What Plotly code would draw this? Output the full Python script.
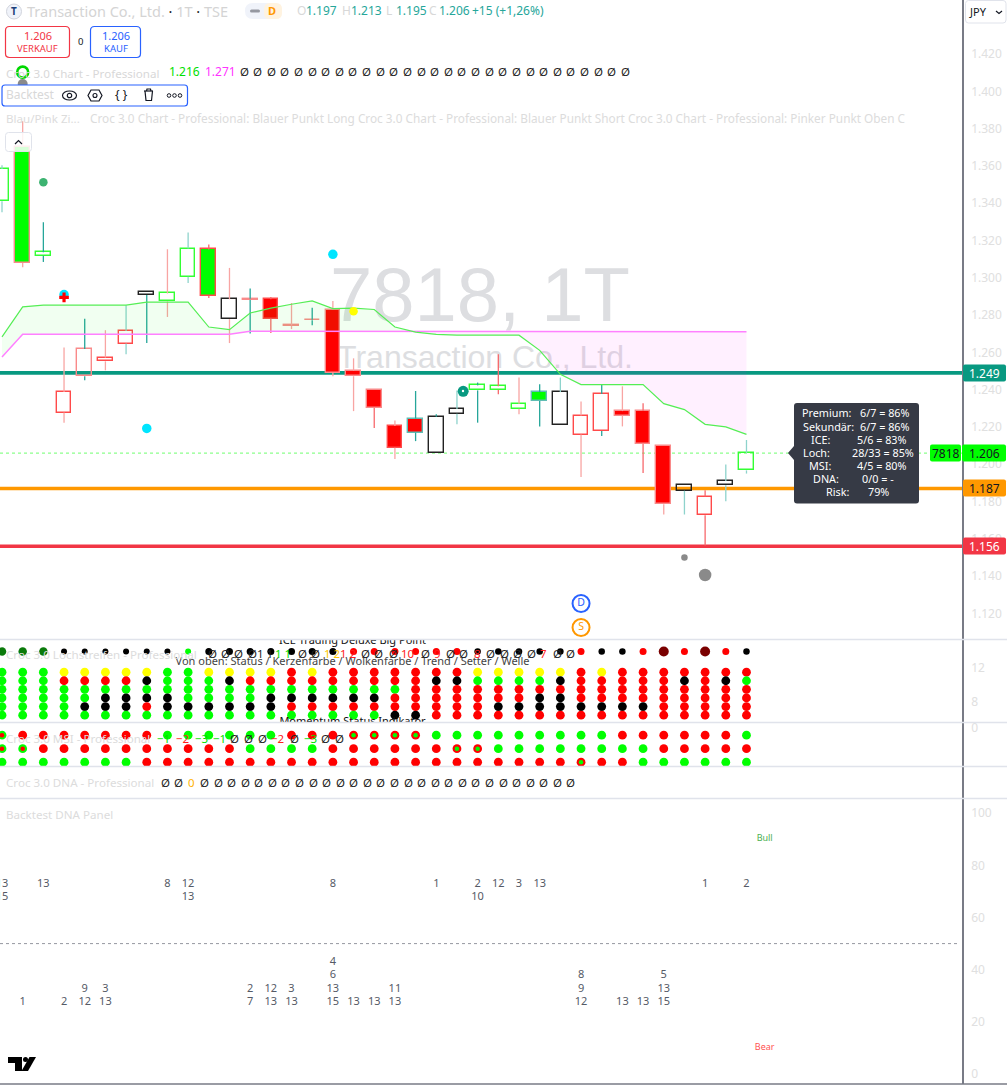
import plotly.graph_objects as go

W, H = 1007, 1085
FONT = "Noto Sans"

# ---------- candle data ----------
high = [1.3604,1.3840,1.3298,1.2626,1.2781,1.2719,1.2853,1.2926,1.3153,1.3243,1.3179,1.3053,1.2942,1.2897,1.2865,1.2840,1.2876,1.2568,1.2400,1.2235,1.2393,1.2268,1.2396,
        1.2438,1.2590,1.2465,1.2429,1.2465,1.2337,1.2429,1.2418,1.2327,1.2100,1.1890,1.1860,1.1999,1.2130]
low = [1.3352,1.3057,1.3085,1.2223,1.2450,1.2504,1.2590,1.2650,1.2790,1.2972,1.2892,1.2650,1.2701,1.2704,1.2725,1.2745,1.2472,1.2285,1.2194,1.2028,1.2124,1.2058,1.2214,
       1.2223,1.2375,1.2268,1.2203,1.2209,1.1931,1.2151,1.2203,1.1953,1.1731,1.1731,1.1564,1.1802,1.1950]
body_top = [1.3583,1.3701,1.3137,1.2387,1.2618,1.2572,1.2715,1.2926,1.2916,1.3157,1.3152,1.2885,1.2888,1.2885,1.2745,1.2775,1.2830,1.2502,1.2400,1.2205,1.2245,1.2255,1.2296,
            1.2423,1.2418,1.2325,1.2387,1.2387,1.2261,1.2377,1.2285,1.2285,1.2100,1.1890,1.1827,1.1910,1.2060]
body_bot = [1.3411,1.3080,1.3118,1.2277,1.2472,1.2552,1.2647,1.2908,1.2873,1.3005,1.2903,1.2778,1.2882,1.2781,1.2742,1.2772,1.2491,1.2472,1.2301,1.2089,1.2169,1.2058,1.2271,
            1.2396,1.2400,1.2298,1.2339,1.2209,1.2159,1.2178,1.2261,1.2108,1.1786,1.1858,1.1727,1.1888,1.1967]
body_fill = list("ngnnnnnnnngnnrnnrrrrrnnnnngnnnrrrnnnn")
body_edge = list("gpgrprrkggrkprppppprtkkgggtkrrpppkrkg")
wick_col = ["l","p","t","p","t","p","l","t","p","l","r","p","t","r","p","t","p","p","r","p","t","t","l",
            "t","r","p","t","l","p","t","p","r","p","l","r","l","l"]

# ---------- cloud ----------
cloud_top = [1.2683,1.2844,1.2853,1.2853,1.2853,1.2853,1.2853,1.2870,1.2870,1.2870,1.2736,1.2722,1.2811,1.2837,1.2858,1.2876,1.2835,1.2837,1.2830,1.2736,1.2709,1.2697,1.2692,
             1.2692,1.2692,1.2692,1.2611,1.2482,1.2427,1.2427,1.2427,1.2427,1.2325,1.2293,1.2214,1.2200,1.2160]
cloud_bot = [1.2575,1.2697,1.2697,1.2697,1.2697,1.2697,1.2697,1.2697,1.2697,1.2697,1.2697,1.2697,1.2713,1.2713,1.2713,1.2713,1.2713,1.2713,1.2713,1.2713,1.2713,1.2713,1.2713,
             1.2713,1.2713,1.2713,1.2713,1.2713,1.2713,1.2713,1.2713,1.2713,1.2713,1.2713,1.2713,1.2710,1.2710]
CROSS = 20

levels = [1.249, 1.187, 1.156]
level_colors = ["#089981", "#ff9800", "#f23645"]
last_price = 1.206

price_ticks = [1.12,1.14,1.16,1.18,1.20,1.22,1.24,1.26,1.28,1.30,1.32,1.34,1.36,1.38,1.40,1.42]
price_tick_labels = [f"{v:.3f}" for v in price_ticks]

# signal markers on the price pane
cyan_x, cyan_y = [3, 7, 16], [1.2910, 1.2192, 1.3126]
seagreen_x, seagreen_y = [2], [1.3513]
yellow_x, yellow_y = [17], [1.2820]
cross_x, cross_y = [3], [1.2895]
grey_small_x, grey_small_y = [33], [1.1500]
grey_big_x, grey_big_y = [34], [1.1406]
ring_x, ring_y = [1], [1.4103]
ring_grey_x, ring_grey_y = [1], [1.4039]
clock_x, clock_y = [22.3], [1.2391]
event_x, event_y, event_text = [28, 28], [1.1253, 1.1124], ["D", "S"]

# ---------- ICE panel ----------
status_row = list("dddkkkkkkGkkkkkkkRRRRRRkkkkkRkkRXRXRk")
ice_rows = [
    "GGGYYYYYGGYYYYRYRRRRRRRYYYYYRYRRRRRRR",
    "GGGRRRRKGGGKRRRRRRRRRKKGGGGKRRRRRKRKG",
    "GGGGGGGGGGGGGGGGGGGGRRRRRRRRRRRRRRRRR",
    "GGGGGKKKKGGGGKKKKKKRRRRRRRKKRRRRRRRRR",
    "GGGGKKKRKKKKKKRRRRRRRRRRKKKKKKKKRRRRR",
    "GGGGGGGGGGGGGGGGGGGKKRRRRRRRRRRRRRRRR",
]
ice_levels = [11.5, 10.5, 9.5, 8.5, 7.5, 6.5]
status_level = 13.9

# ---------- MSI panel ----------
msi_rows = [
    "GRRRRRRRGGGGGGRRRRRRGGGGGGGGGGRRRRRRG",
    "GGRRRRRRRRRRGGGGRRRRRRRRGGGGGGGGRRRRR",
    "GGGGGGGRRRRRRRRRRRRRRRRRRRRRRRRGGGGGG",
]
msi_levels = [-0.57, -1.57, -2.57]
msi_inner = [(0,0,"R"),(0,17,"G"),(0,18,"G"),(0,19,"G"),(0,20,"G"),
             (1,0,"R"),(1,1,"R"),(1,22,"G"),(1,23,"G"),(2,28,"G")]
msi_outer_red = [(0,17),(0,18),(0,19),(0,20),(1,22),(1,23),(2,28)]

# ---------- Backtest DNA ----------
dna_upper = {0:["13","15"],2:["13"],8:["8"],9:["12","13"],16:["8"],21:["1"],23:["2","10"],24:["12"],25:["3"],26:["13"],34:["1"],36:["2"]}
dna_lower = {1:["1"],3:["2"],4:["9","12"],5:["3","13"],12:["2","7"],13:["12","13"],14:["3","13"],16:["4","6","13","15"],17:["13"],18:["13"],19:["11","13"],
             28:["8","9","12"],30:["13"],31:["13"],32:["5","13","15"]}
upper_levels = [72.9, 67.9]
lower_levels = [27.6, 32.6, 37.8, 42.7]
dna_ticks = [0, 20, 40, 60, 80, 100]

# ---------- header text ----------
title_nulls = 29

COL = {"G":"#00ff00","R":"#ff0000","K":"#000000","Y":"#ffff00","d":"#0a7a0a","k":"#000000","X":"#7a0000"}
FILL = {"n":"rgba(0,0,0,0)","g":"#00ff00","r":"#ff0000"}
EDGE = {"g":"#33ff33","r":"#ff4a4a","p":"#f98a8a","k":"#222222","t":"#5fbdb4"}
WICK = {"t":"#26a69a","l":"#8ed3cc","r":"#f7686c","p":"#f8a5a3"}

AX_RIGHT = 962
X0 = 2.0; STEP = 20.68
xr = [(0-X0)/STEP, (AX_RIGHT-X0)/STEP]

def dom(top, bot):
    return [1-bot/H, 1-top/H]
def px(x): return x/W
def py(y): return 1-y/H

fig = go.Figure()
n = len(high)
xs = list(range(n))

# candle bodies (hollow ones stay see-through)
fig.add_trace(go.Bar(x=xs, base=body_bot, y=[t-b for t,b in zip(body_top,body_bot)], width=0.71,
                     marker=dict(color=[FILL[c] for c in body_fill],
                                 line=dict(color=[EDGE[c] for c in body_edge], width=1.4)), showlegend=False))
# wicks, drawn above and below the body only
for key, colr in WICK.items():
    wx, wy = [], []
    for i in xs:
        if wick_col[i] == key:
            if high[i] > body_top[i]:
                wx += [i, i, None]; wy += [high[i], body_top[i], None]
            if low[i] < body_bot[i]:
                wx += [i, i, None]; wy += [body_bot[i], low[i], None]
    fig.add_trace(go.Scatter(x=wx, y=wy, mode="lines", line=dict(color=colr, width=1.3), showlegend=False))

# cloud
k = CROSS+1
fig.add_trace(go.Scatter(x=xs[:k], y=cloud_bot[:k], mode="lines", line=dict(width=0), showlegend=False))
fig.add_trace(go.Scatter(x=xs[:k], y=cloud_top[:k], mode="lines", line=dict(width=0), fill="tonexty",
                         fillcolor="rgba(0,255,0,0.055)", showlegend=False))
fig.add_trace(go.Scatter(x=xs[CROSS:], y=cloud_top[CROSS:], mode="lines", line=dict(width=0), showlegend=False))
fig.add_trace(go.Scatter(x=xs[CROSS:], y=cloud_bot[CROSS:], mode="lines", line=dict(width=0), fill="tonexty",
                         fillcolor="rgba(255,0,255,0.06)", showlegend=False))
fig.add_trace(go.Scatter(x=xs, y=cloud_bot, mode="lines", line=dict(color="#ff80ff", width=1.5), showlegend=False))
fig.add_trace(go.Scatter(x=xs, y=cloud_top, mode="lines", line=dict(color="#55ee55", width=1.2), showlegend=False))

def dots(x, y, color, size, yaxis="y", **kw):
    fig.add_trace(go.Scatter(x=x, y=y, mode="markers", yaxis=yaxis, showlegend=False,
                             marker=dict(color=color, size=size, opacity=1, line=dict(width=0), **kw)))

dots(cyan_x, cyan_y, "#00e5ff", 9.5)
dots(seagreen_x, seagreen_y, "#3cb371", 8.5)
dots(yellow_x, yellow_y, "#ffff00", 8.5)
fig.add_trace(go.Scatter(x=cross_x, y=cross_y, mode="markers", showlegend=False,
                         marker=dict(symbol="cross", color="#ff0000", size=8, line=dict(width=0))))
dots(grey_small_x, grey_small_y, "#8a8a8a", 6.5)
dots(grey_big_x, grey_big_y, "#8a8a8a", 12.5)
dots(ring_grey_x, ring_grey_y, "#8a8a8a", 10)
fig.add_trace(go.Scatter(x=ring_x, y=ring_y, mode="markers", showlegend=False,
                         marker=dict(symbol="circle-open", color="#00d800", size=11, line=dict(width=2.6, color="#00d800"))))
dots(clock_x, clock_y, "#089981", 11)
fig.add_trace(go.Scatter(x=[event_x[0]], y=[event_y[0]], mode="markers+text", text=[event_text[0]],
                         textfont=dict(family=FONT, size=10.5, color="#2962ff"), textposition="middle center", showlegend=False,
                         marker=dict(color="white", size=17, line=dict(color="#2962ff", width=2))))
fig.add_trace(go.Scatter(x=[event_x[1]], y=[event_y[1]], mode="markers+text", text=[event_text[1]],
                         textfont=dict(family=FONT, size=10.5, color="#ff9800"), textposition="middle center", showlegend=False,
                         marker=dict(color="white", size=17, line=dict(color="#ff9800", width=2))))

# ICE panel
sizes = [8.5,8.5,8.5,6,6,6,6,6,6,6,7,7,7,7,7,7,7,7,7,7,7,7,7,6.5,6.5,6.5,6.5,6.5,7,6.5,6.5,7,10,7,10,7,6.5]
dots(xs, [status_level]*n, [COL[c] for c in status_row], sizes, "y2")
for row, lv in zip(ice_rows, ice_levels):
    dots(xs, [lv]*n, [COL[c] for c in row], 8.8, "y2")
fig.add_trace(go.Scatter(x=[16.95, 16.95, 16.95], y=[15.06, 12.7, 5.65], yaxis="y2", mode="text", showlegend=False,
                         text=["ICE Trading Deluxe Big Point", "Von oben: Status / Kerzenfarbe / Wolkenfarbe / Trend / Setter / Welle", "Momentum Status Indikator"],
                         textfont=dict(family=FONT, size=11, color=["#111111", "#444444", "#111111"]), textposition="middle center"))

# MSI panel
for r, (row, lv) in enumerate(zip(msi_rows, msi_levels)):
    cols = list(row)
    for (rr, i) in msi_outer_red:
        if rr == r: cols[i] = "R"
    dots(xs, [lv]*n, [COL[c] for c in cols], 8.8, "y3")
dots([m[1] for m in msi_inner], [msi_levels[m[0]] for m in msi_inner], [COL[m[2]] for m in msi_inner], 4.5, "y3")

# DNA backtest numbers
tx, ty, tt = [], [], []
for i, labels in dna_upper.items():
    for lv, lab in zip(upper_levels, labels):
        tx.append(i); ty.append(lv); tt.append(lab)
for i, labels in dna_lower.items():
    for lv, lab in zip(lower_levels, reversed(labels)):
        tx.append(i); ty.append(lv); tt.append(lab)
fig.add_trace(go.Scatter(x=tx, y=ty, yaxis="y5", mode="text", text=tt, showlegend=False,
                         textfont=dict(family=FONT, size=11, color="#555a66"), textposition="middle center"))
fig.add_trace(go.Scatter(x=[36.88, 36.88], y=[90, 10], yaxis="y5", mode="text", text=["Bull", "Bear"], showlegend=False,
                         textfont=dict(family=FONT, size=9, color=["#4caf50", "#ff5252"]), textposition="middle center"))

# ---------- chrome ----------
shapes, ann = [], []

def txt(x, y, text, color="#d8d8d8", size=12, anchor="left", family=FONT):
    ann.append(dict(x=px(x), y=py(y), xref="paper", yref="paper", text=text, showarrow=False, xanchor=anchor, yanchor="middle",
                    font=dict(family=family, size=size, color=color), borderpad=0, borderwidth=0))

def rr_path(x0, y0, x1, y1, r):
    a, b, c, d = px(x0), py(y0), px(x1), py(y1)
    rx, ry = r/W, r/H
    return (f"M{a+rx},{b} L{c-rx},{b} Q{c},{b} {c},{b-ry} L{c},{d+ry} Q{c},{d} {c-rx},{d} "
            f"L{a+rx},{d} Q{a},{d} {a},{d+ry} L{a},{b-ry} Q{a},{b} {a+rx},{b} Z")

def rrect(x0, y0, x1, y1, r, fill="white", edge=None, lw=1.2, layer="above"):
    shapes.append(dict(type="path", path=rr_path(x0,y0,x1,y1,r), xref="paper", yref="paper", fillcolor=fill, layer=layer,
                       line=dict(color=edge or "rgba(0,0,0,0)", width=lw if edge else 0)))

def poly(pts, fill=None, edge=None, lw=1.2, close=True):
    p = "M" + " L".join(f"{px(a)},{py(b)}" for a,b in pts) + (" Z" if close else "")
    shapes.append(dict(type="path", path=p, xref="paper", yref="paper", fillcolor=fill or "rgba(0,0,0,0)",
                       line=dict(color=edge or "rgba(0,0,0,0)", width=lw if edge else 0)))

def circ(cx, cy, r, fill=None, edge=None, lw=1.2, ry=None):
    ry = ry if ry is not None else r
    shapes.append(dict(type="circle", xref="paper", yref="paper", x0=px(cx-r), x1=px(cx+r), y0=py(cy+ry), y1=py(cy-ry),
                       fillcolor=fill or "rgba(0,0,0,0)", line=dict(color=edge or "rgba(0,0,0,0)", width=lw if edge else 0)))

def hline(y, x0, x1, color, w=1, dash="solid", layer="above"):
    shapes.append(dict(type="line", xref="paper", yref="paper", x0=px(x0), x1=px(x1), y0=py(y), y1=py(y),
                       line=dict(color=color, width=w, dash=dash), layer=layer))

# watermark (below the data)
shapes.append(dict(type="rect", xref="paper", yref="paper", x0=px(280), x1=px(680), y0=py(325), y1=py(250), layer="below", line=dict(width=0),
                   fillcolor="rgba(0,0,0,0)", label=dict(text="7818, 1T", textposition="middle center", font=dict(family="Liberation Sans", size=76, color="#dddee1"))))
shapes.append(dict(type="rect", xref="paper", yref="paper", x0=px(280), x1=px(690), y0=py(375), y1=py(333), layer="below", line=dict(width=0),
                   fillcolor="rgba(0,0,0,0)", label=dict(text="Transaction Co., Ltd.", textposition="middle center", font=dict(family="Liberation Sans", size=32, color="#dddee1"))))

# price levels below candles
for v, c in zip(levels, level_colors):
    shapes.append(dict(type="line", xref="paper", yref="y", x0=0, x1=px(AX_RIGHT), y0=v, y1=v, line=dict(color=c, width=3.6), layer="below"))
shapes.append(dict(type="line", xref="paper", yref="y", x0=0, x1=px(AX_RIGHT), y0=last_price, y1=last_price, line=dict(color="#8cff8c", width=1.2, dash="dot"), layer="below"))
shapes.append(dict(type="line", xref="paper", yref="y5", x0=0, x1=px(960), y0=50, y1=50, line=dict(color="#9598a1", width=1, dash="dot"), layer="below"))

# pane separators
for y in (639.5, 722.5, 766.5, 798.5):
    hline(y, 0, W, "#e0e3eb", 1.5)
hline(1084, 0, W, "#787b86", 1.5)

# header
circ(14, 11.5, 7.5, "#f0f3fa", "#d1d4dc", 1)
txt(14, 11.5, "<b>T</b>", "#1a3f7a", 10, "center")
txt(27, 11.5, 'Transaction Co., Ltd. <span style="color:#222">·</span> 1T <span style="color:#222">·</span> TSE', "#d4d4d4", 14.5)
rrect(245, 3, 282, 19, 8, "#f0f3fa")
rrect(264, 3, 282, 19, 6, "#fff3e0")
rrect(250, 9.5, 260, 12.5, 1.5, "#9598a1")
txt(272, 11, "<b>D</b>", "#ff9800", 11, "center")
for xx, lab, val in [(296.5,"O","1.197"),(341.5,"H","1.213"),(386,"L","1.195"),(429,"C","1.206")]:
    txt(xx, 10.5, lab, "#d8d8d8", 12)
    txt(xx+9.5, 10.5, val, "#26a69a", 12)
txt(472, 10.5, "+15 (+1,26%)", "#26a69a", 12)

# order buttons
rrect(5.5, 26.5, 69.5, 57.5, 4, "white", "#f23645", 1.2)
txt(37.5, 36, "1.206", "#f23645", 11, "center")
txt(37.5, 48.5, "VERKAUF", "#f23645", 9.5, "center")
txt(80, 42, "0", "#131722", 9.5, "center")
rrect(90.5, 26.5, 140.5, 57.5, 4, "white", "#2962ff", 1.2)
txt(115.5, 36, "1.206", "#2962ff", 11, "center")
txt(115.5, 48.5, "KAUF", "#2962ff", 9.5, "center")

# JPY button
rrect(965.5, 0.5, 1006, 23, 3, "white", "#e0e3eb", 1)
txt(969, 12, "JPY", "#131722", 11)
poly([(996,11),(999,13.5),(1002,11)], None, "#131722", 1.2, False)

# title row
txt(6, 73, "Croc 3.0 Chart - Professional", "#d8d8d8", 11.6)
txt(169, 72, "1.216", "#00e000", 12)
txt(205, 72, "1.271", "#ff33ff", 12)
for j in range(title_nulls):
    txt(244+13.62*j, 72, "Ø", "#222222", 11.5, "center")

# Backtest toolbar
rrect(2, 85, 187.5, 106, 3, "white", "#2962ff", 1.2)
txt(6, 95, "Backtest", "#d8d8d8", 12)
circ(69.5, 95.5, 7, None, "#131722", 1.2, ry=4.5)
circ(69.5, 95.5, 2.2, None, "#131722", 1.2)
poly([(91,90),(99,90),(102,95.5),(99,101),(91,101),(88,95.5)], None, "#131722", 1.2)
circ(95, 95.5, 2, None, "#131722", 1.1)
txt(121.5, 95, "{ }", "#131722", 12, "center")
poly([(144,91),(153,91)], None, "#131722", 1.2, False)
poly([(145,91),(146,100.5),(151.5,100.5),(152.5,91)], None, "#131722", 1.2, False)
poly([(146.5,91),(147,89),(150.5,89),(151,91)], None, "#131722", 1.2, False)
for cx in (169, 174.5, 180):
    circ(cx, 95.5, 1.8, None, "#131722", 1)

txt(6, 118, "Blau/Pink Zi...", "#dcdcdc", 11.6)
txt(90, 118, "Croc 3.0 Chart - Professional: Blauer Punkt Long Croc 3.0 Chart - Professional: Blauer Punkt Short Croc 3.0 Chart - Professional: Pinker Punkt Oben C", "#dcdcdc", 11.8)

# collapse button
rrect(5.5, 132.5, 31.5, 151.5, 3, "rgba(255,255,255,0.85)", "#e0e3eb", 1)
poly([(15,144),(18.5,140.5),(22,144)], None, "#131722", 1.2, False)

# price tags
def tag(x0, x1, y, text, bg, fg):
    rrect(x0, y-8.5, x1, y+8.5, 2, bg)
    txt((x0+x1)/2, y, text, fg, 12, "center")
tag(963, 1006, 373, "1.249", "#089981", "white")
tag(963, 1006, 488, "1.187", "#ff9800", "#131722")
tag(963, 1006, 546, "1.156", "#f23645", "white")
tag(930, 961, 453, "7818", "#00ff00", "#131722")
tag(962, 1006, 453, "1.206", "#00ff00", "#131722")

# tooltip
rrect(794, 403, 919, 503.5, 3, "#363a45")
poly([(794,446),(788,453),(794,460)], "#363a45")
rows = [("Premium:",827,"6/7 = 86%",885,412.5),("Sekundär:",828,"6/7 = 86%",885,426),("ICE:",820,"5/6 = 83%",882,439),
        ("Loch:",816,"28/33 = 85%",883,452),("MSI:",820,"4/5 = 80%",882,465),("DNA:",826,"0/0 = -",878,478),("Risk:",837,"79%",878,491.5)]
for a, ax, b, bx, yy in rows:
    txt(ax, yy, a, "white", 10.8, "center")
    txt(bx, yy, b, "white", 10.8, "center")

# clock glyph on the marker
circ(463, 391, 1.2, "#ffffff")

# ICE row
txt(6, 654, "Croc 3.0 Lochstreifen - Professional", "#dcdcdc", 11.6)
ice_vals = [("Ø","#222",212),("Ø","#222",225),("Ø","#222",238),("Ø","#222",252),("1 1","#222",265),("1 1","#00e000",283),("Ø","#222",302),("Ø","#222",315),
            ("1 2","#ffc800",332),("1 2","#ff2020",348),("Ø","#222",365),("Ø","#222",378),("Ø","#222",393),("10","#ff2020",408),("Ø","#222",425),("9","#ff2020",437),
            ("Ø","#222",450),("Ø","#222",463),("8","#ff2020",477),("Ø","#222",490),("Ø","#222",504),("Ø","#222",517),("Ø","#222",531),("7","#ff2020",543),("Ø","#222",557),("Ø","#222",570)]
for s, c, xx in ice_vals:
    txt(xx, 653.5, s, c, 11.5, "center")

# MSI row
txt(6, 738, "Croc 3.0 MSI - Professional", "#dcdcdc", 11.6)
msi_vals = [("-1","#00e000",163),("-2","#ff2020",182),("-3","#00e000",201),("-1","#00e000",219),("Ø","#222",234),("Ø","#222",248),("Ø","#222",262),("-2","#ff2020",277),
            ("Ø","#222",294),("-3","#00e000",310),("Ø","#222",325),("Ø","#222",339)]
for s, c, xx in msi_vals:
    txt(xx, 738, s.replace("-","−"), c, 11.5, "center")

# DNA row
txt(6, 782, "Croc 3.0 DNA - Professional", "#dcdcdc", 11.6)
for j in range(31):
    xx = 165 + 13.1*j if j < 3 else 204.5 + 13.57*(j-3)
    txt(xx, 782, "0" if j == 2 else "Ø", "#ffb300" if j == 2 else "#222", 11.5, "center")

txt(6, 814, "Backtest DNA Panel", "#dcdcdc", 11.6)

# TradingView logo
poly([(8,1057),(22,1057),(22,1071),(15,1071),(15,1063),(8,1063)], "#000000")
circ(25.5, 1059.5, 2.5, "#000000")
poly([(29.5,1057),(36,1057),(28,1071),(21.5,1071)], "#000000")

fig.update_layout(
    width=W, height=H, margin=dict(l=0, r=0, t=0, b=0, pad=0, autoexpand=False), autosize=False,
    paper_bgcolor="white", plot_bgcolor="white", barmode="overlay", bargap=0, showlegend=False,
    font=dict(family=FONT), hovermode=False,
    xaxis=dict(domain=[0, AX_RIGHT/W], range=xr, visible=False, fixedrange=True, automargin=False),
    shapes=shapes, annotations=ann,
)
tickfont = dict(family=FONT, size=12, color="#e0e0e0")
def yax(top, bot, lo, hi, tv, tt):
    return dict(domain=dom(top, bot), range=[lo, hi], side="right", anchor="x", showgrid=False, zeroline=False, automargin=False,
                tickmode="array", tickvals=tv, ticktext=tt, tickfont=tickfont, ticks="outside", ticklen=5, tickcolor="rgba(0,0,0,0)",
                showline=True, linecolor="#787b86", linewidth=1.5, fixedrange=True)
fig.update_layout(
    yaxis=yax(0, 639.5, 1.106, 1.449, price_ticks, price_tick_labels),
    yaxis2=yax(639.5, 722.5, 5.65, 15.29, [8, 12], ["8", "12"]),
    yaxis3=yax(722.5, 766.5, -2.89, 0.37, [0], ["0"]),
    yaxis4=yax(766.5, 798.5, 0, 1, [], []),
    yaxis5=yax(798.5, 1084, -3.8, 105.6, dna_ticks, [str(v) for v in dna_ticks]),
)
# keep the empty DNA pane's axis line visible
fig.add_trace(go.Scatter(x=[0], y=[0.5], yaxis="y4", mode="markers", marker=dict(opacity=0), showlegend=False))

fig.write_html("out.html", config=dict(displayModeBar=False, responsive=False),
               post_script="document.body.style.margin='0';document.body.style.overflow='hidden';")
